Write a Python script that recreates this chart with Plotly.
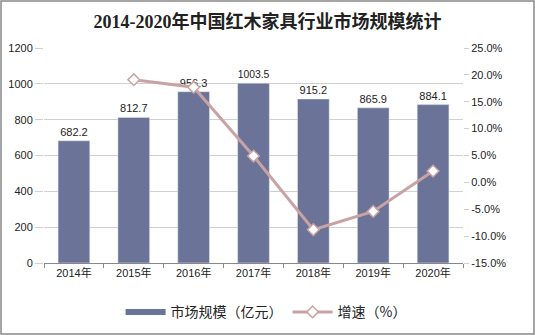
import plotly.graph_objects as go

years = ["2014年", "2015年", "2016年", "2017年", "2018年", "2019年", "2020年"]
market = [682.2, 812.7, 956.3, 1003.5, 915.2, 865.9, 884.1]
growth_years = ["2015年", "2016年", "2017年", "2018年", "2019年", "2020年"]
growth = [19.1, 17.7, 4.9, -8.8, -5.4, 2.1]
y_ticks = [0, 200, 400, 600, 800, 1000, 1200]
y2_ticks = [-15, -10, -5, 0, 5, 10, 15, 20, 25]

BAR = "#6b7399"
LINE = "#c9a3a3"

fig = go.Figure()
fig.add_trace(go.Bar(
    x=years, y=market, name="市场规模（亿元）", showlegend=False,
    marker_color=BAR, width=0.53,
    text=[f"{v:.1f}" for v in market], textposition="outside",
    textfont=dict(size=11, color="#222", family="Liberation Sans"),
    cliponaxis=False,
))
fig.add_trace(go.Scatter(
    x=[None], y=[None], name="市场规模（亿元）", mode="lines",
    line=dict(color=BAR, width=6),
))
fig.add_trace(go.Scatter(
    x=growth_years, y=growth, name="增速（%）", yaxis="y2",
    mode="lines+markers",
    line=dict(color=LINE, width=3),
    marker=dict(symbol="diamond", size=9, color="white",
                line=dict(color=LINE, width=1.5)),
))

fig.update_layout(
    width=535, height=335,
    margin=dict(l=44, r=72, t=48, b=72, autoexpand=False),
    paper_bgcolor="white", plot_bgcolor="white",
    title=dict(text="<b>2014-2020年中国红木家具行业市场规模统计</b>",
               x=0.5, xanchor="center", y=0.935, yanchor="middle",
               font=dict(size=18, color="#222",
                         family="Liberation Serif, Noto Sans CJK SC")),
    font=dict(family="Liberation Sans, Noto Sans CJK SC", size=11, color="#222"),
    xaxis=dict(showline=True, linecolor="#888", ticks="outside", ticklen=4,
               tickcolor="#888", tickson="boundaries",
               tickfont=dict(size=11)),
    yaxis=dict(range=[0, 1200], tickvals=y_ticks, showgrid=True,
               gridcolor="#d0d0d0", showline=False, ticks="outside",
               ticklen=8, tickcolor="#d0d0d0", zeroline=False,
               tickfont=dict(size=11)),
    yaxis2=dict(range=[-15, 25], tickvals=y2_ticks, overlaying="y",
                side="right", showgrid=False, zeroline=False,
                ticktext=[f"{v:.1f}%" for v in y2_ticks],
                ticks="outside", ticklen=5, tickcolor="#d0d0d0",
                tickfont=dict(size=11)),
    legend=dict(orientation="h", x=0.53, xanchor="center",
                yref="container", y=0.02, yanchor="bottom",
                font=dict(size=14, family="Noto Sans CJK SC"),
                itemwidth=40, tracegroupgap=0),
    bargap=0.47,
    shapes=[dict(type="rect", xref="paper", yref="paper",
                 x0=-43/419, x1=1 + 71/419, y0=-71/215, y1=1 + 47/215,
                 line=dict(color="#888", width=1.5))],
)
fig.write_html("out.html")
